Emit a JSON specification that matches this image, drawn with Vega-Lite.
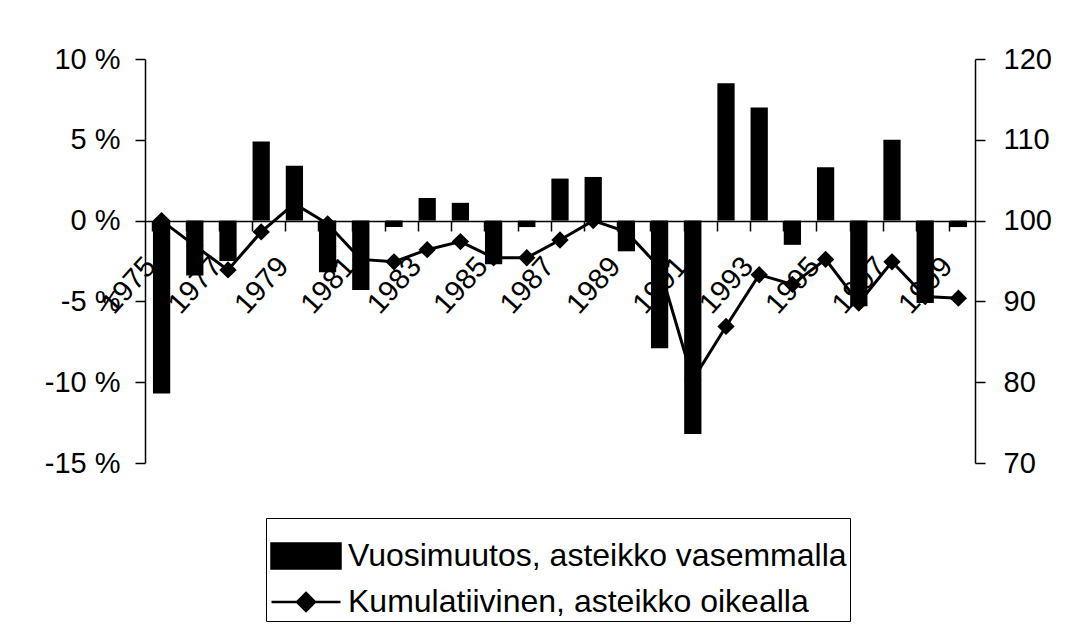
{
  "$schema": "https://vega.github.io/schema/vega-lite/v6.json",
  "width": 830,
  "height": 404,
  "autosize": {"type": "none"},
  "padding": {"left": 145, "top": 59, "right": 108, "bottom": 164},
  "background": "white",
  "config": {
    "view": {"stroke": null},
    "font": "Liberation Sans",
    "axis": {
      "labelFont": "Liberation Sans",
      "labelFontSize": 29,
      "labelColor": "black",
      "domainColor": "black",
      "tickColor": "black",
      "domainWidth": 1.5,
      "tickWidth": 1.5,
      "grid": false,
      "title": null
    }
  },
  "data": {
    "values": [
      {"year": 1975, "change": -10.7, "cum": 100},
      {"year": 1976, "change": -3.4, "cum": 96.9},
      {"year": 1977, "change": -2.5, "cum": 93.9},
      {"year": 1978, "change": 4.9, "cum": 98.6},
      {"year": 1979, "change": 3.4, "cum": 102.1},
      {"year": 1980, "change": -3.2, "cum": 99.6},
      {"year": 1981, "change": -4.3, "cum": 95.2},
      {"year": 1982, "change": -0.4, "cum": 94.9},
      {"year": 1983, "change": 1.4, "cum": 96.4},
      {"year": 1984, "change": 1.1, "cum": 97.4},
      {"year": 1985, "change": -2.7, "cum": 95.4},
      {"year": 1986, "change": -0.4, "cum": 95.4},
      {"year": 1987, "change": 2.6, "cum": 97.6},
      {"year": 1988, "change": 2.7, "cum": 100},
      {"year": 1989, "change": -1.9, "cum": 98.6},
      {"year": 1990, "change": -7.9, "cum": 94.2},
      {"year": 1991, "change": -13.2, "cum": 80.3},
      {"year": 1992, "change": 8.5, "cum": 86.9},
      {"year": 1993, "change": 7.0, "cum": 93.3},
      {"year": 1994, "change": -1.5, "cum": 92.1},
      {"year": 1995, "change": 3.3, "cum": 95.2},
      {"year": 1996, "change": -5.3, "cum": 89.8},
      {"year": 1997, "change": 5.0, "cum": 94.9},
      {"year": 1998, "change": -5.1, "cum": 90.6},
      {"year": 1999, "change": -0.4, "cum": 90.4}
    ]
  },
  "encoding": {
    "x": {
      "field": "year",
      "type": "ordinal",
      "scale": {"paddingInner": 0.48, "paddingOuter": 0.24},
      "axis": {
        "orient": "bottom",
        "offset": -242,
        "bandPosition": 0,
        "ticks": true,
        "labelAngle": -48,
        "labelAlign": "right",
        "labelBaseline": "middle",
        "labelOffset": -11,
        "tickSize": 10,
        "labelPadding": 30,
        "labelOverlap": false,
        "labelBound": false,
        "labelFlush": false,
        "labelExpr": "datum.value % 2 == 1 ? datum.label : ''",
        "encode": {"ticks": {"update": {"y": {"value": -10}}}}
      }
    }
  },
  "layer": [
    {
      "mark": {"type": "bar"},
      "encoding": {
        "y": {
          "field": "change",
          "type": "quantitative",
          "scale": {"domain": [-15, 10], "nice": false},
          "axis": {
            "orient": "left",
            "values": [-15, -10, -5, 0, 5, 10],
            "labelExpr": "datum.value + ' %'",
            "tickSize": 10,
            "labelPadding": 15,
            "encode": {"ticks": {"update": {"x": {"value": 10}}}}
          }
        },
        "color": {
          "datum": "Vuosimuutos, asteikko vasemmalla",
          "type": "nominal",
          "scale": {
            "domain": ["Vuosimuutos, asteikko vasemmalla", "Kumulatiivinen, asteikko oikealla"],
            "range": ["black", "black"]
          },
          "legend": {
            "orient": "none",
            "legendX": 121,
            "legendY": 459,
            "title": " ",
            "titleFontSize": 14,
            "titlePadding": 5,
            "labelFont": "Liberation Sans",
            "labelFontSize": 32,
            "labelColor": "black",
            "labelLimit": 1000,
            "strokeColor": "black",
            "padding": 3,
            "symbolSize": 625,
            "symbolStrokeWidth": 2.5,
            "labelOffset": 47,
            "rowPadding": 12,
            "encode": {
              "symbols": {
                "update": {
                  "shape": {"signal": "datum.value === 'Vuosimuutos, asteikko vasemmalla' ? 'M-1.08,-1H4.44V1H-1.08Z' : 'M-1.08,0H4.44M1.68,-0.72L2.4,0L1.68,0.72L0.96,0Z'"},
                  "fill": {"value": "black"},
                  "stroke": {"value": "black"},
                  "strokeWidth": {"value": 2.5},
                  "opacity": {"value": 1},
                  "fillOpacity": {"value": 1}
                }
              }
            }
          }
        }
      }
    },
    {
      "mark": {
        "type": "line",
        "strokeWidth": 3,
        "point": {"shape": "diamond", "size": 300, "filled": true, "color": "black", "opacity": 1}
      },
      "encoding": {
        "y": {
          "field": "cum",
          "type": "quantitative",
          "scale": {"domain": [70, 120], "nice": false, "zero": false},
          "axis": {
            "orient": "right",
            "values": [70, 80, 90, 100, 110, 120],
            "tickSize": 10,
            "labelPadding": 18,
            "encode": {"ticks": {"update": {"x": {"value": -10}}}}
          }
        },
        "color": {"datum": "Kumulatiivinen, asteikko oikealla", "type": "nominal"}
      }
    }
  ],
  "resolve": {"scale": {"y": "independent"}}
}
